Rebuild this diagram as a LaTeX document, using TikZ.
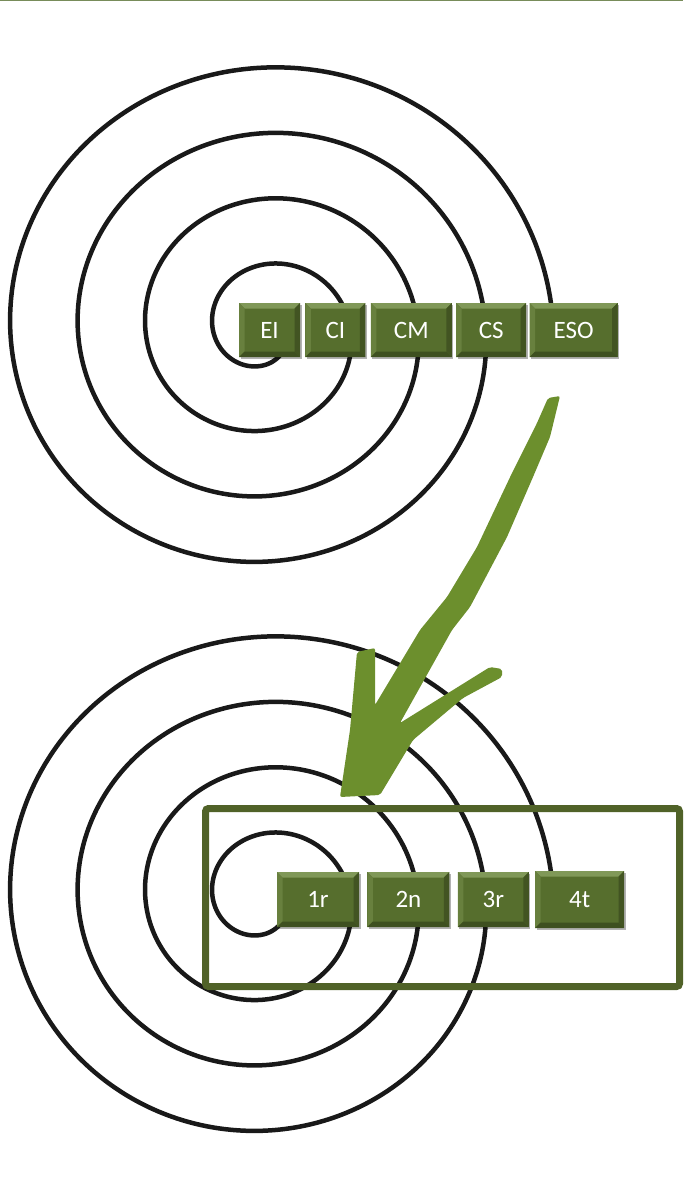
\documentclass[tikz,border=0pt]{standalone}
\usepackage{fontspec}
\setmainfont{Carlito}
\usepackage{tikz}
\usepackage{xcolor}
\usetikzlibrary{positioning, shadows}
\definecolor{boxgreen}{RGB}{86,110,45}
\definecolor{boxlight}{RGB}{128,152,88}
\definecolor{boxside}{RGB}{104,128,62}
\definecolor{boxdark}{RGB}{62,80,32}
\definecolor{framegreen}{RGB}{80,98,40}
\definecolor{arrowgreen}{RGB}{108,143,45}
\definecolor{rulegreen}{RGB}{120,140,90}
\definecolor{inkblack}{RGB}{25,25,25}

\begin{document}
\begin{tikzpicture}[x=1pt, y=1pt,
    spiral/.style={draw=inkblack, line width=4.5pt, line cap=round, line join=round},
    levelbox/.style={fill=boxgreen, text=white, inner sep=0pt,
        minimum height=54, font=\fontsize{25}{29}\selectfont,
        drop shadow={shadow xshift=1.5pt, shadow yshift=-2pt, opacity=0.3, fill=black},
        path picture={
            \fill[boxlight] (path picture bounding box.north west) -- (path picture bounding box.north east)
                -- ([shift={(-5.5pt,-5.5pt)}]path picture bounding box.north east) -- ([shift={(5.5pt,-5.5pt)}]path picture bounding box.north west) -- cycle;
            \fill[boxside] (path picture bounding box.north west) -- ([shift={(5.5pt,-5.5pt)}]path picture bounding box.north west)
                -- ([shift={(5.5pt,5.5pt)}]path picture bounding box.south west) -- (path picture bounding box.south west) -- cycle;
            \fill[boxdark!85!boxgreen] (path picture bounding box.north east) -- ([shift={(-5.5pt,-5.5pt)}]path picture bounding box.north east)
                -- ([shift={(-5.5pt,5.5pt)}]path picture bounding box.south east) -- (path picture bounding box.south east) -- cycle;
            \fill[boxdark] (path picture bounding box.south west) -- ([shift={(5.5pt,5.5pt)}]path picture bounding box.south west)
                -- ([shift={(-5.5pt,5.5pt)}]path picture bounding box.south east) -- (path picture bounding box.south east) -- cycle;
        }},
    frame/.style={draw=framegreen, line width=7pt, rounded corners=3pt}]

    \useasboundingbox (0,0) rectangle (683,-1182);

    % riga in alto
    \draw[rulegreen, line width=1.5pt] (0,-0.75) -- (683,-0.75);

    % le due spirali
    \foreach \cy in {331,900}
        \draw[spiral] plot[variable=\t, domain=-30:1350, samples=600, smooth]
            ({265+(35+0.18778*\t)*cos(270-\t)}, {-\cy+0.97*(35+0.18778*\t)*sin(270-\t)});

    % freccia
    \fill[arrowgreen, rounded corners=2pt] (548,-398) -- (560,-396) -- (550,-437) -- (533,-477)
        -- (507,-537) -- (470,-607) -- (452,-630) -- (400,-723) -- (490,-667) -- (502,-669)
        -- (502,-677) -- (463,-698) -- (413,-740) -- (380,-795) -- (340,-797) -- (350,-730)
        -- (357,-652) -- (375,-648) -- (375,-705) -- (420,-630) -- (447,-597) -- (477,-547)
        -- (512,-473) -- (537,-423) -- cycle;

    % cornice
    \node[frame, minimum width=474, minimum height=178] (cornice) at (442.5,-897.5) {};

    % etapes
    \node[levelbox, minimum width=61] (ei) at (269.5,-330) {EI};
    \node[levelbox, minimum width=60, right=5pt of ei] (ci) {CI};
    \node[levelbox, minimum width=81, right=5pt of ci] (cm) {CM};
    \node[levelbox, minimum width=70, right=4pt of cm] (cs) {CS};
    \node[levelbox, minimum width=88, right=3pt of cs] (eso) {ESO};

    % cursos
    \node[levelbox, minimum width=82, minimum height=55] (primer) at (318,-899.5) {1r};
    \node[levelbox, minimum width=82, minimum height=55, right=8pt of primer] (segon) {2n};
    \node[levelbox, minimum width=71, minimum height=55, right=8pt of segon] (tercer) {3r};
    \node[levelbox, minimum width=89, minimum height=57, right=6pt of tercer] (quart) {4t};
\end{tikzpicture}
\end{document}
